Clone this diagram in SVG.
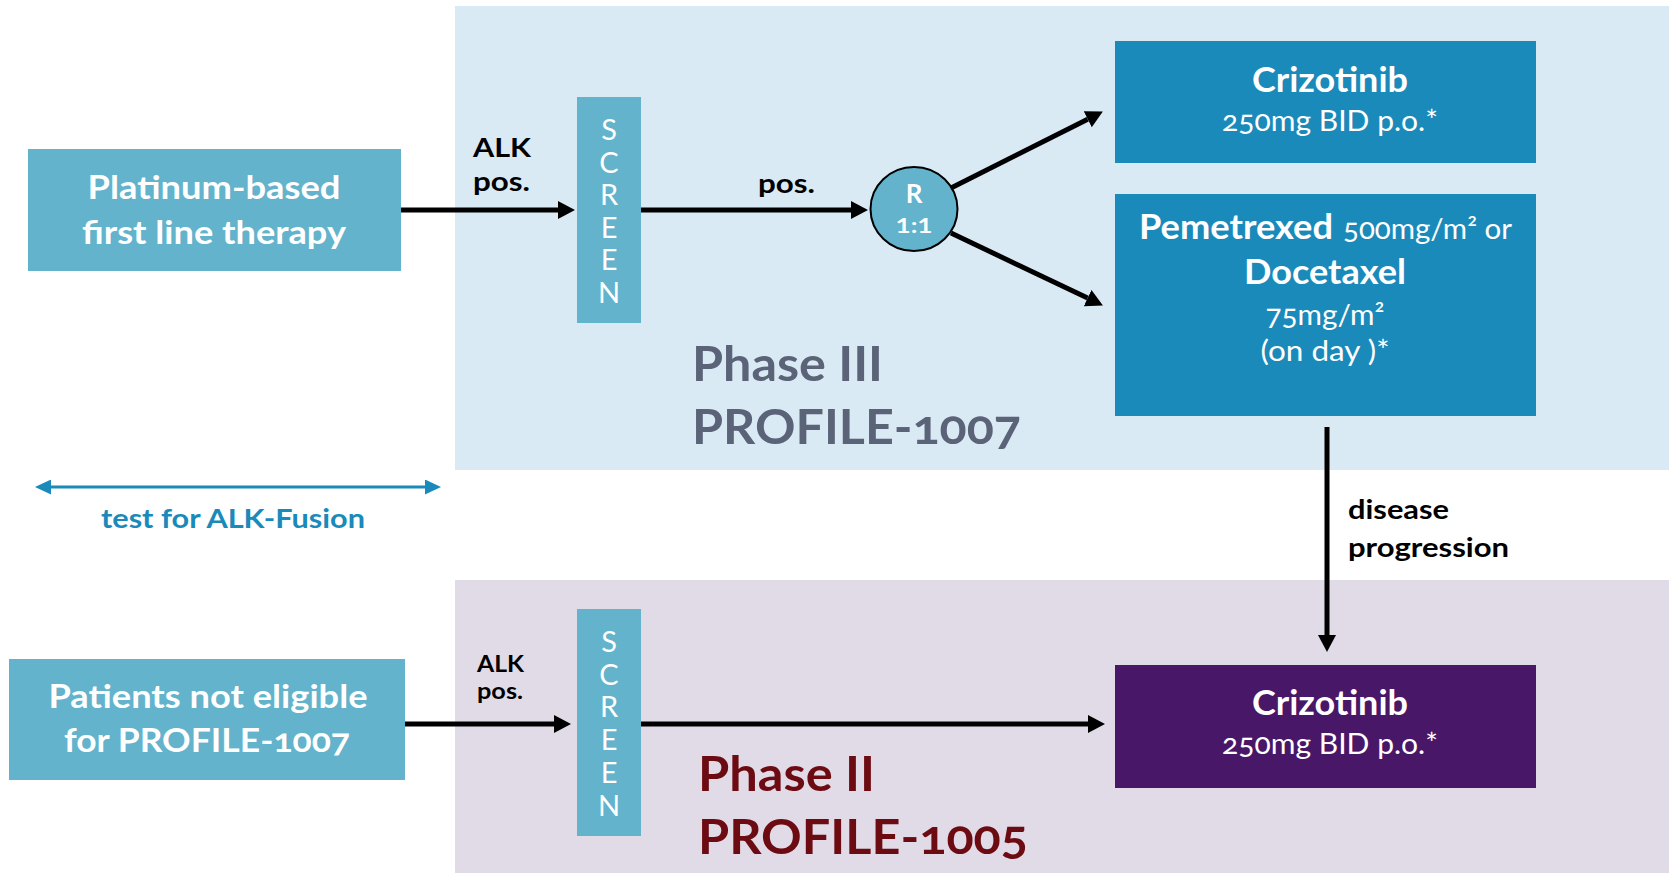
<svg xmlns="http://www.w3.org/2000/svg" width="1674" height="873" viewBox="0 0 1674 873">
<style>
text{font-family:Lato,"Open Sans","Liberation Sans",sans-serif;font-feature-settings:"onum" 1;font-variant-numeric:oldstyle-nums}
.w{fill:#ffffff}
.b{font-weight:700}
.k{fill:#000000}
.lb{fill:#62b3cb}
.db{fill:#1a8aba}
.scr{fill:#ffffff;font-size:29px;text-anchor:middle}
.conn{stroke:#000;stroke-width:5;fill:none}
</style>
<defs>
<marker id="ah" markerUnits="userSpaceOnUse" markerWidth="17" markerHeight="18" refX="0" refY="9" orient="auto" viewBox="0 0 17 18"><path d="M0,0 L17,9 L0,18 z" fill="#000"/></marker>
<marker id="ahb" markerUnits="userSpaceOnUse" markerWidth="16" markerHeight="15" refX="0" refY="7.5" orient="auto-start-reverse" viewBox="0 0 16 15"><path d="M0,0 L16,7.5 L0,15 z" fill="#1a8aba"/></marker>
</defs>
<rect width="1674" height="873" fill="#ffffff"/>
<g id="panel-phase3">
<rect x="455" y="6" width="1214" height="464" fill="#daeaf4"/>
<text x="692" y="381" font-size="47" class="b" fill="#5b6378" textLength="191" lengthAdjust="spacingAndGlyphs">Phase III</text>
<text x="692" y="444" font-size="47" class="b" fill="#5b6378" textLength="329" lengthAdjust="spacingAndGlyphs">PROFILE-1007</text>
</g>
<g id="panel-phase2">
<rect x="455" y="580" width="1214" height="293" fill="#e1dbe8"/>
<text x="698" y="791" font-size="48" class="b" fill="#6d0b12" textLength="177" lengthAdjust="spacingAndGlyphs">Phase II</text>
<text x="698" y="854" font-size="48" class="b" fill="#6d0b12" textLength="330" lengthAdjust="spacingAndGlyphs">PROFILE-1005</text>
</g>
<g id="platinum">
<rect x="28" y="149" width="373" height="122" class="lb"/>
<text x="214" y="199" font-size="33" class="w b" text-anchor="middle" textLength="253" lengthAdjust="spacingAndGlyphs">Platinum-based</text>
<text x="214" y="244" font-size="33" class="w b" text-anchor="middle" textLength="264" lengthAdjust="spacingAndGlyphs">first line therapy</text>
</g>
<g id="screen1">
<rect x="577" y="97" width="64" height="226" class="lb"/>
<text x="609" y="140" class="scr">S</text>
<text x="609" y="173" class="scr">C</text>
<text x="609" y="205" class="scr">R</text>
<text x="609" y="238" class="scr">E</text>
<text x="609" y="270" class="scr">E</text>
<text x="609" y="303" class="scr">N</text>
</g>
<g id="randomize">
<ellipse cx="914" cy="209" rx="43.5" ry="42" class="lb" stroke="#000" stroke-width="2"/>
<text x="914" y="203" font-size="26" class="w b" text-anchor="middle">R</text>
<text x="914" y="233" font-size="21" class="w b" text-anchor="middle" style="font-feature-settings:normal;font-variant-numeric:lining-nums" textLength="37" lengthAdjust="spacingAndGlyphs">1:1</text>
</g>
<g id="crizotinib-p3">
<rect x="1115" y="41" width="421" height="122" class="db"/>
<text x="1330" y="92" font-size="35" class="w b" text-anchor="middle" textLength="156" lengthAdjust="spacingAndGlyphs">Crizotinib</text>
<text x="1330" y="131" font-size="28" class="w" text-anchor="middle" textLength="216" lengthAdjust="spacingAndGlyphs">250mg BID p.o.*</text>
</g>
<g id="chemo">
<rect x="1115" y="194" width="421" height="222" class="db"/>
<text x="1139" y="239" font-size="35" class="w b" textLength="194" lengthAdjust="spacingAndGlyphs">Pemetrexed</text>
<text x="1343" y="239" font-size="28" class="w" textLength="169" lengthAdjust="spacingAndGlyphs">500mg/m² or</text>
<text x="1325" y="284" font-size="35" class="w b" text-anchor="middle" textLength="162" lengthAdjust="spacingAndGlyphs">Docetaxel</text>
<text x="1325" y="325" font-size="28" class="w" text-anchor="middle" textLength="119" lengthAdjust="spacingAndGlyphs">75mg/m²</text>
<text x="1325" y="361" font-size="28" class="w" text-anchor="middle" textLength="129" lengthAdjust="spacingAndGlyphs">(on day )*</text>
</g>
<g id="patients">
<rect x="9" y="659" width="396" height="121" class="lb"/>
<text x="208" y="708" font-size="33" class="w b" text-anchor="middle" textLength="319" lengthAdjust="spacingAndGlyphs">Patients not eligible</text>
<text x="207" y="752" font-size="33" class="w b" text-anchor="middle" textLength="286" lengthAdjust="spacingAndGlyphs">for PROFILE-1007</text>
</g>
<g id="screen2">
<rect x="577" y="609" width="64" height="227" class="lb"/>
<text x="609" y="652" class="scr">S</text>
<text x="609" y="685" class="scr">C</text>
<text x="609" y="717" class="scr">R</text>
<text x="609" y="750" class="scr">E</text>
<text x="609" y="783" class="scr">E</text>
<text x="609" y="816" class="scr">N</text>
</g>
<g id="crizotinib-p2">
<rect x="1115" y="665" width="421" height="123" fill="#481768"/>
<text x="1330" y="715" font-size="35" class="w b" text-anchor="middle" textLength="156" lengthAdjust="spacingAndGlyphs">Crizotinib</text>
<text x="1330" y="754" font-size="28" class="w" text-anchor="middle" textLength="216" lengthAdjust="spacingAndGlyphs">250mg BID p.o.*</text>
</g>
<g id="alk-test">
<line x1="51" y1="487" x2="425" y2="487" stroke="#1a8aba" stroke-width="3" marker-start="url(#ahb)" marker-end="url(#ahb)"/>
<text x="233" y="528" font-size="27" class="db b" text-anchor="middle" textLength="264" lengthAdjust="spacingAndGlyphs">test for ALK-Fusion</text>
</g>
<g id="connectors">
<line x1="401" y1="210" x2="558" y2="210" class="conn" marker-end="url(#ah)"/>
<line x1="641" y1="210" x2="851" y2="210" class="conn" marker-end="url(#ah)"/>
<line x1="951" y1="188" x2="1087.7" y2="119.2" class="conn" marker-end="url(#ah)"/>
<line x1="951" y1="233" x2="1087.6" y2="298.1" class="conn" marker-end="url(#ah)"/>
<line x1="1327" y1="427" x2="1327" y2="635" class="conn" stroke-width="4" marker-end="url(#ah)"/>
<line x1="405" y1="724" x2="554" y2="724" class="conn" marker-end="url(#ah)"/>
<line x1="641" y1="724" x2="1088" y2="724" class="conn" marker-end="url(#ah)"/>
<text x="473" y="157" font-size="27" class="k b" textLength="58" lengthAdjust="spacingAndGlyphs">ALK</text>
<text x="473" y="191" font-size="27" class="k b" textLength="57" lengthAdjust="spacingAndGlyphs">pos.</text>
<text x="758" y="193" font-size="27" class="k b" textLength="57" lengthAdjust="spacingAndGlyphs">pos.</text>
<text x="1348" y="519" font-size="27" class="k b" textLength="101" lengthAdjust="spacingAndGlyphs">disease</text>
<text x="1348" y="557" font-size="27" class="k b" textLength="161" lengthAdjust="spacingAndGlyphs">progression</text>
<text x="477" y="672" font-size="23" class="k b" textLength="47" lengthAdjust="spacingAndGlyphs">ALK</text>
<text x="477" y="699" font-size="23" class="k b" textLength="46" lengthAdjust="spacingAndGlyphs">pos.</text>
</g>
</svg>
